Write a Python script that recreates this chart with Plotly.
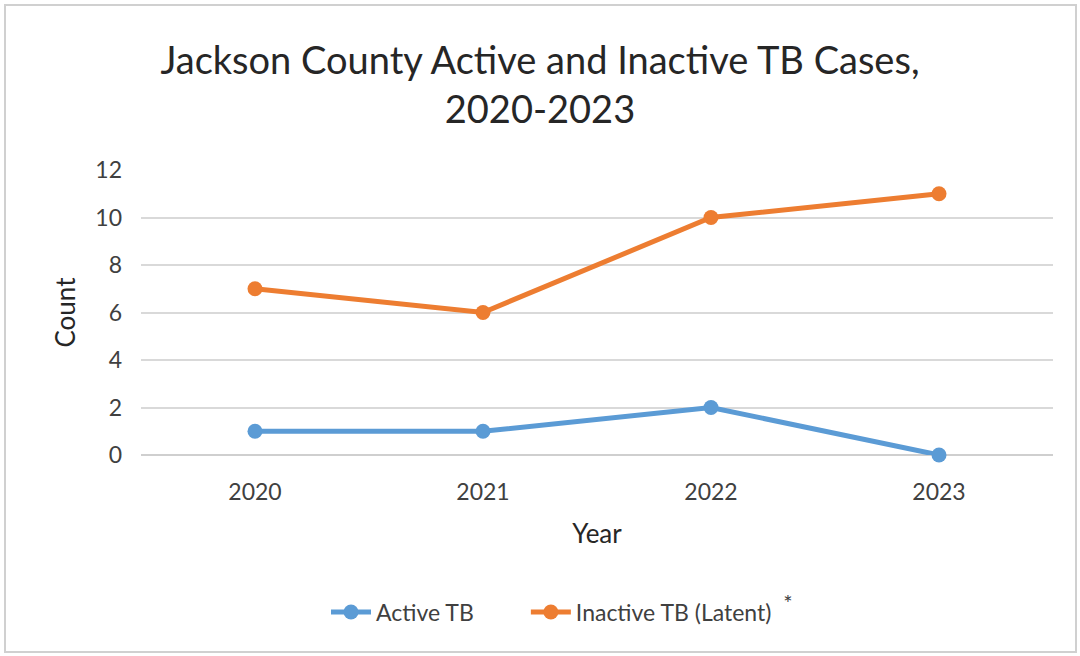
import plotly.graph_objects as go

years = ["2020", "2021", "2022", "2023"]
active_tb = [1, 1, 2, 0]
inactive_tb = [7, 6, 10, 11]
y_ticks = [0, 2, 4, 6, 8, 10, 12]

W, H = 1080, 656
L, R, T, B = 141, 27, 170, 201
pw, ph = W - L - R, H - T - B

FONT = "Lato"
NB = "\u00a0"
fig = go.Figure()
fig.add_trace(go.Scatter(x=years, y=active_tb, name="Active TB" + NB * 8, mode="lines+markers",
                         line=dict(color="#5B9BD5", width=5), cliponaxis=False,
                         marker=dict(size=15, color="#5B9BD5")))
fig.add_trace(go.Scatter(x=years, y=inactive_tb,
                         name="Inactive TB (Latent)" + NB + " <sup><span style='font-size:22px'>*</span></sup>",
                         mode="lines+markers", cliponaxis=False,
                         line=dict(color="#ED7D31", width=5),
                         marker=dict(size=15, color="#ED7D31")))

def px(x):
    return (x - L) / pw

def py(y):
    return (H - B - y) / ph

fig.add_shape(type="rect", xref="paper", yref="paper",
              x0=px(5), x1=px(1076), y0=py(652), y1=py(5),
              line=dict(color="#d0d0d0", width=2), fillcolor="rgba(0,0,0,0)", layer="below")

fig.update_layout(
    width=W, height=H,
    margin=dict(l=L, r=R, t=T, b=B),
    paper_bgcolor="white", plot_bgcolor="white",
    font=dict(family=FONT, color="#404040"),
    title=dict(text="Jackson County Active and Inactive TB Cases,<br>2020-2023",
               x=0.5, xanchor="center", y=1 - 74 / H, yanchor="top",
               font=dict(size=38, color="#262626", family=FONT)),
    xaxis=dict(type="category", range=[-0.5, 3.5], showgrid=False, showline=False,
               ticks="", tickfont=dict(size=23, color="#404040"), ticklabelstandoff=21,
               title=dict(text="Year", font=dict(size=26, color="#262626"), standoff=20)),
    yaxis=dict(range=[0, 12], tickvals=y_ticks, showgrid=True, gridcolor="#d9d9d9", gridwidth=1.5,
               zeroline=True, zerolinecolor="#cfcfcf", zerolinewidth=2,
               ticks="", tickfont=dict(size=23, color="#404040"), ticklabelstandoff=18,
               title=dict(text="Count", font=dict(size=26, color="#262626"), standoff=12)),
    legend=dict(orientation="h", x=px(326), xanchor="left", y=py(612), yanchor="middle",
                font=dict(size=23, color="#404040"), itemwidth=40, tracegroupgap=0),
    showlegend=True,
)

fig.write_html("out.html", config={"displayModeBar": False},
               post_script="document.body.style.margin='0';document.body.style.padding='0';")
